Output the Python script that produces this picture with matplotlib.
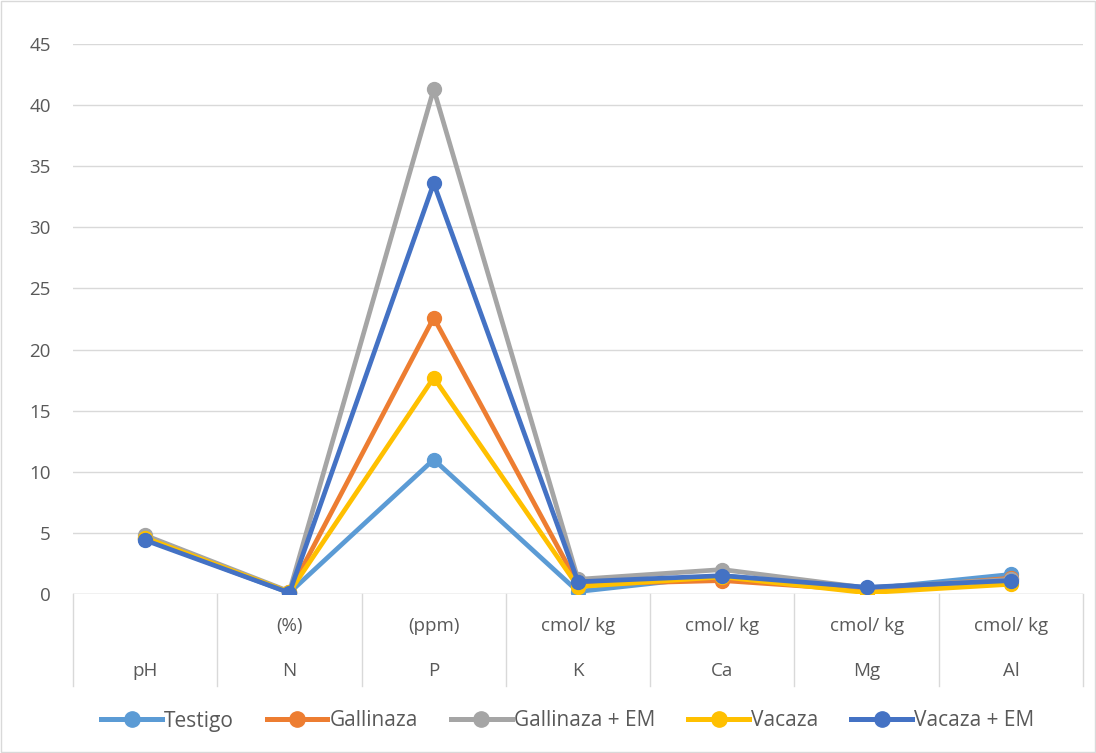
import matplotlib
matplotlib.use("Agg")
import matplotlib.pyplot as plt
from matplotlib.lines import Line2D
from matplotlib.patches import Rectangle

categories = ["pH", "N", "P", "K", "Ca", "Mg", "Al"]
units = ["", "(%)", "(ppm)", "cmol/ kg", "cmol/ kg", "cmol/ kg", "cmol/ kg"]

series_names = ["Testigo", "Gallinaza", "Gallinaza + EM", "Vacaza", "Vacaza + EM"]
testigo = [4.5, 0.1, 11.0, 0.2, 1.5, 0.4, 1.6]
gallinaza = [4.6, 0.15, 22.6, 0.8, 1.1, 0.3, 1.3]
gallinaza_em = [4.8, 0.2, 41.3, 1.2, 2.0, 0.5, 1.2]
vacaza = [4.6, 0.15, 17.7, 0.6, 1.4, 0.1, 0.8]
vacaza_em = [4.4, 0.1, 33.6, 1.0, 1.5, 0.55, 1.1]
colors = ["#5B9BD5", "#ED7D31", "#A5A5A5", "#FFC000", "#4472C4"]

yticks = [0, 5, 10, 15, 20, 25, 30, 35, 40, 45]

plt.rcParams['font.family'] = ['Open Sans', 'DejaVu Sans']
txt = "#595959"
grid = "#D9D9D9"
fs = 13.5

fig = plt.figure(figsize=(10.96, 7.53), dpi=100)
ax = fig.add_axes([73/1096, 1 - 594/753, (1083 - 73)/1096, (594 - 44)/753])

x = list(range(len(categories)))
data = [testigo, gallinaza, gallinaza_em, vacaza, vacaza_em]
for name, vals, c in zip(series_names, data, colors):
    ax.plot(x, vals, color=c, lw=3.4, marker='o', ms=10, label=name,
            solid_capstyle='round', solid_joinstyle='round', zorder=3)

ax.set_xlim(-0.5, len(categories) - 0.5)
ax.set_ylim(0, 45)
ax.set_yticks(yticks)
ax.set_yticklabels([str(v) for v in yticks], color=txt, fontsize=fs)
ax.tick_params(axis='y', length=0, pad=16)
ax.tick_params(axis='x', length=0)
ax.set_xticks([])
ax.grid(axis='y', color=grid, lw=1)
ax.set_axisbelow(True)
for s in ax.spines.values():
    s.set_visible(False)
ax.axhline(0, color=grid, lw=1, zorder=1)

# multi-level category axis
trans = ax.get_xaxis_transform()
sep_len = (686 - 594) / (594 - 44)
for b in range(len(categories) + 1):
    ax.plot([b - 0.5, b - 0.5], [0, -sep_len], transform=trans, color=grid,
            lw=1, clip_on=False)
for i, (c, u) in enumerate(zip(categories, units)):
    ax.text(i, -(626 - 594) / 550, u, transform=trans, ha='center', va='center',
            color=txt, fontsize=fs)
    ax.text(i, -(671 - 594) / 550, c, transform=trans, ha='center', va='center',
            color=txt, fontsize=fs)

handles = [Line2D([0], [0], color=c, lw=3.6, marker='o', ms=11) for c in colors]
fig.legend(handles, series_names, loc='center', bbox_to_anchor=(0.518, 1 - 721/753),
           ncol=5, frameon=False, fontsize=15, labelcolor=txt,
           handlelength=2.9, handletextpad=0.1, columnspacing=1.6)

fig.patches.append(Rectangle((0.001, 0.001), 0.998, 0.998, transform=fig.transFigure,
                             fill=False, edgecolor=grid, lw=1))

fig.savefig("out.png", dpi=100)
